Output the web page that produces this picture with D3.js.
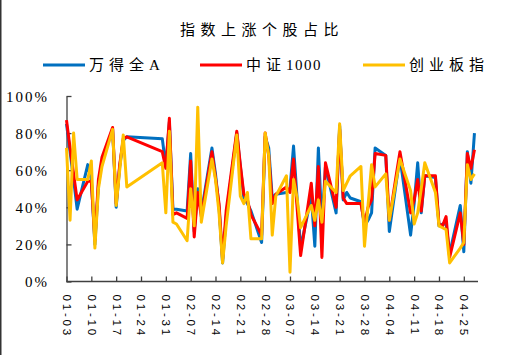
<!DOCTYPE html>
<html><head><meta charset="utf-8">
<script src="https://cdn.jsdelivr.net/npm/d3@7/dist/d3.min.js"></script>
<style>body{margin:0;background:#fff} svg{display:block}</style>
</head><body><svg id="c" width="519" height="355"></svg>
<script>
const title = "指数上涨个股占比";
const seriesNames = ["万得全A", "中证1000", "创业板指"];
const seriesColors = ["#0070C0", "#FF0000", "#FFC000"];
const year = 2023;
const dates = [
 "01-03","01-04","01-05","01-06","01-09","01-10","01-11","01-12","01-13","01-16","01-17","01-18","01-19","01-20","01-30","01-31",
 "02-01","02-02","02-03","02-06","02-07","02-08","02-09","02-10","02-13","02-14","02-15","02-16","02-17","02-20","02-21","02-22","02-23","02-24","02-27","02-28",
 "03-01","03-02","03-03","03-06","03-07","03-08","03-09","03-10","03-13","03-14","03-15","03-16","03-17","03-20","03-21","03-22","03-23","03-24","03-27","03-28","03-29","03-30","03-31",
 "04-03","04-04","04-06","04-07","04-10","04-11","04-12","04-13","04-14","04-17","04-18","04-19","04-20","04-21","04-24","04-25","04-26","04-27","04-28"
];
const windA = [
 85,70,55,39,63,55,20,52,65,82,40,62,76,78,77,62,
 86,39,39,38,69,27,50,37,72,58,40,10,35,80,62,45,42,38,21,78,
 72,45,47,48,50,73,45,18,46,19,72,30,62,37,84,44,48,45,43,30,33,37,72,
 68,27,54,67,25,42,64,37,57,56,30,31,31,15,41,16,70,53,80
];
const csi1000 = [
 87,72,58,44,54,54,22,55,67,83,42,63,77,78,70,61,
 88,36,37,34,65,24,48,35,70,56,42,12,38,81,63,47,44,36,25,80,
 68,42,47,51,48,66,40,14,53,30,62,13,64,40,82,45,42,42,42,31,40,44,69,
 68,33,58,70,37,44,55,38,57,57,31,30,35,13,37,20,69,61,71
];
const chinext = [
 72,33,80,55,55,65,18,50,62,82,41,60,79,51,64,37,
 81,32,31,22,50,30,94,32,66,55,37,10,30,79,46,42,48,23,23,80,
 68,25,46,57,5,55,45,29,41,33,44,32,54,48,85,49,53,57,62,19,41,63,51,
 58,33,55,66,49,31,37,50,64,48,30,29,28,10,18,21,63,55,58
];
const xTickLabels = ["01-03","01-10","01-17","01-24","01-31","02-07","02-14","02-21","02-28","03-07","03-14","03-21","03-28","04-04","04-11","04-18","04-25"];
const yTickValues = [0, 20, 40, 60, 80, 100];
const xDomainEnd = "04-29";

const svg = d3.select("#c");
const parse = s => d3.utcParse("%Y-%m-%d")(year + "-" + s);
const L = 66.5, R = 478, T = 96, B = 281.5;
const x = d3.scaleUtc().domain([parse(dates[0]), parse(xDomainEnd)]).range([L, R]);
const y = d3.scaleLinear().domain([0, 100]).range([B, T]);

const serif = "'Liberation Serif','Noto Sans CJK SC',serif";
const cjk = "'Liberation Serif','Noto Sans CJK SC',sans-serif";

// left frame line
svg.append("line").attr("x1", 0.75).attr("x2", 0.75).attr("y1", 0).attr("y2", 355)
  .attr("stroke", "#333").attr("stroke-width", 1.5);

// title
svg.append("text").attr("x", 262).attr("y", 30).attr("dy", "0.35em")
  .attr("text-anchor", "middle").style("font-family", cjk).style("font-size", "15px")
  .style("letter-spacing", "5.5px").attr("fill", "#000").text(title);

// axes
const yAxis = d3.axisLeft(y).tickValues(yTickValues).tickSize(-5).tickSizeOuter(0)
  .tickFormat(d => d + "%");
const gy = svg.append("g").attr("transform", `translate(${L},0)`).call(yAxis);
gy.selectAll("text").attr("x", -17.5).attr("dy", "0.35em")
  .style("font-family", serif).style("font-size", "15px").style("letter-spacing", "2px").attr("fill", "#000");

const xAxis = d3.axisBottom(x).tickValues(xTickLabels.map(parse)).tickSize(-5).tickSizeOuter(0)
  .tickFormat(d3.utcFormat("%m-%d"));
const gx = svg.append("g").attr("transform", `translate(0,${B})`).call(xAxis);
gx.select(".domain").attr("d", `M${L},0H${R}`);
gx.selectAll("text").attr("transform", "rotate(90)").attr("x", 13).attr("y", 0).attr("dy", "0.35em")
  .style("text-anchor", "start").style("font-family", "'Liberation Sans',Arial,sans-serif")
  .style("font-size", "11.5px").style("letter-spacing", "2.8px").attr("fill", "#000");

svg.selectAll(".domain, .tick line").attr("stroke", "#404040").attr("stroke-width", 1.3);

// lines
const seriesValues = [windA, csi1000, chinext];
const line = d3.line().x(d => x(d.date)).y(d => y(d.v));
seriesValues.forEach((vals, i) => {
  const data = dates.map((s, j) => ({ date: parse(s), v: vals[j] }));
  svg.append("path").datum(data).attr("d", line).attr("fill", "none")
    .attr("stroke", seriesColors[i]).attr("stroke-width", 3).attr("stroke-linejoin", "round");
});

// legend
const legendX = [43, 200, 363];
seriesNames.forEach((name, i) => {
  const g = svg.append("g").attr("transform", `translate(${legendX[i]},65)`);
  g.append("line").attr("x1", 0).attr("x2", 42).attr("y1", 0).attr("y2", 0)
    .attr("stroke", seriesColors[i]).attr("stroke-width", 3);
  const t = g.append("text").attr("x", 46).attr("dy", "0.35em")
    .style("font-family", cjk).style("font-size", "15px").attr("fill", "#000");
  name.split(/([\u4e00-\u9fff]+)/).filter(s => s.length).forEach(part => {
    const isCjk = /[\u4e00-\u9fff]/.test(part);
    t.append("tspan").style("letter-spacing", isCjk ? "5px" : "1.5px").text(part);
  });
});
</script></body></html>
